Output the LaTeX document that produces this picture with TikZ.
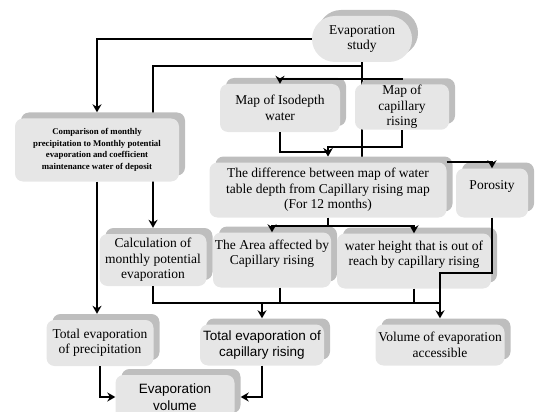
\documentclass[tikz,border=0pt]{standalone}
\usepackage{fontspec}
\setmainfont{Liberation Serif}
\setsansfont{Liberation Sans}
\usetikzlibrary{arrows.meta,shadows,backgrounds}
\definecolor{boxfill}{HTML}{E6E6E6}
\definecolor{boxshade}{HTML}{BEBEBE}

\begin{document}
\begin{tikzpicture}[x=1pt,y=-1pt,
  box/.style={fill=boxfill,rounded corners=8pt,align=center,inner xsep=0pt,inner ysep=1pt,
    font=\fontsize{13.5}{15.5}\selectfont,
    drop shadow={shadow xshift=6pt,shadow yshift=6pt,fill=boxshade,opacity=1}},
  sbox/.style={box,font=\sffamily\fontsize{13.5}{16.5}\selectfont},
  conn/.style={line width=2pt},
  >={Stealth[length=8pt,width=9pt]}]
  \useasboundingbox (0,0) rectangle (536,412);
  \node[box,minimum width=100pt,minimum height=46pt,rounded corners=23pt] (study) at (362,39) {Evaporation\\study};
  \node[box,minimum width=164pt,minimum height=63pt,font=\bfseries\fontsize{8.8}{11.5}\selectfont] (comp) at (97,150) {Comparison of monthly\\precipitation to Monthly potential\\evaporation and coefficient\\maintenance water of deposit};
  \node[box,minimum width=120pt,minimum height=48pt] (iso) at (280,108) {Map of Isodepth\\water};
  \node[box,minimum width=94pt,minimum height=42pt] (cap) at (402,107) {Map of\\capillary\\rising};
  \node[box,minimum width=237pt,minimum height=55pt] (diff) at (328,190) {The difference between map of water\\table depth from Capillary rising map\\(For 12 months)};
  \node[box,minimum width=72pt,minimum height=49pt] (poro) at (492,193) {Porosity\\~};
  \node[box,minimum width=107pt,minimum height=52pt] (calc) at (153,260) {Calculation of\\monthly potential\\evaporation};
  \node[box,minimum width=118pt,minimum height=55pt] (area) at (272,260) {The Area affected by\\Capillary rising\\~};
  \node[box,minimum width=154pt,minimum height=55pt] (reach) at (414,261) {water height that is out of\\reach by capillary rising\\~};
  \node[box,minimum width=107pt,minimum height=46pt] (tprec) at (100,343) {Total evaporation\\of precipitation};
  \node[sbox,minimum width=124pt,minimum height=41pt] (tcap) at (262,345) {Total evaporation of\\capillary rising};
  \node[box,minimum width=129pt,minimum height=41pt] (vol) at (440,345) {Volume of evaporation\\accessible};
  \node[sbox,minimum width=119pt,minimum height=44pt] (evol) at (175,397) {Evaporation\\volume};

  \begin{scope}[on background layer]
    \draw[conn,->,shorten >=6pt] (study.south) -- ++(0,4) -| (calc.north);
    \draw[conn] (study.south) -- (study.south |- diff.north);
  \end{scope}
  \draw[conn,->,shorten >=6pt] (study.west) -| (comp.north);
  \draw[conn,->] (study.south) -- ++(0,17) -| (iso.north);
  \draw[conn,shorten >=6pt] (study.south) ++(0,17) -| (cap.north);
  \draw[conn,->,shorten >=6pt] (iso.south) -- ++(0,20) -| (diff.north);
  \draw[conn,->,shorten >=6pt] (cap.south) -- ++(0,17) -| (diff.north);
  \draw[conn,->] (diff.north east) -| (poro.north);
  \draw[conn] (diff.south) -- ++(0,8) coordinate (j1);
  \draw[conn,->] (j1) -| (area.north);
  \draw[conn,->] (j1) -| (reach.north);
  \draw[conn] (calc.south) -- ++(0,17) coordinate (j2) -- (j2 -| vol.north);
  \draw[conn] ([xshift=8pt]area.south) -- ([xshift=8pt]area.south |- j2);
  \draw[conn] (reach.south) -- (reach.south |- j2);
  \draw[conn,->,shorten >=6pt] (j2 -| tcap.north) -- (tcap.north);
  \draw[conn,->,shorten >=6pt] (poro.south) -- ++(0,55) -| (vol.north);
  \draw[conn,->,shorten >=6pt] (comp.south) -- (comp.south |- tprec.north);
  \draw[conn,->] (tprec.south) |- (evol.west);
  \draw[conn,->,shorten >=6pt] (tcap.south) |- (evol.east);
\end{tikzpicture}
\end{document}
